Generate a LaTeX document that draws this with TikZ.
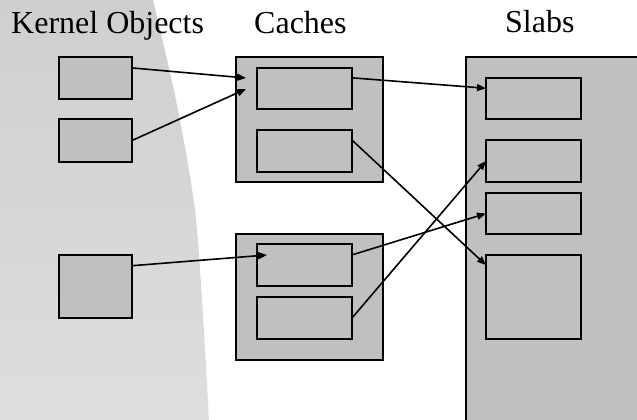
\documentclass[tikz,border=0pt]{standalone}
\usepackage{fontspec}
\setmainfont{Liberation Serif}
\usetikzlibrary{arrows.meta,calc}
\definecolor{boxfill}{RGB}{192,192,192}
\definecolor{shadetop}{RGB}{207,207,207}
\definecolor{shadebot}{RGB}{222,222,222}
\tikzset{
  box/.style={draw=black, fill=boxfill, line width=2pt, rectangle,
    inner sep=0pt, outer sep=0pt},
  title/.style={anchor=base west, inner sep=0pt, font=\fontsize{32}{38}\selectfont},
  link/.style={line width=1.6pt, -{Triangle[length=9pt,width=7pt]}, shorten >=0pt},
}
\begin{document}
\begin{tikzpicture}[x=1pt,y=-1pt]
  \useasboundingbox (0,0) rectangle (637,420);
  \clip (0,0) rectangle (637,420);

  % shaded region behind the kernel objects
  \shade[top color=shadetop, bottom color=shadebot]
    (0,0) -- plot[smooth] coordinates {(153,0) (177,105) (195,210) (203,315) (209,420)}
    -- (0,420) -- cycle;

  % column titles
  \node[title] (tk) at (11,34) {Kernel Objects};
  \node[title] (tc) at (254,34) {Caches};
  \node[title] (ts) at (505,33) {Slabs};

  % kernel objects
  \node[box, minimum width=73pt, minimum height=42pt] (k1) at (95.5,78) {};
  \node[box, minimum width=73pt, minimum height=43pt] (k2) at (95.5,140.5) {};
  \node[box, minimum width=73pt, minimum height=63pt] (k3) at (95.5,286.5) {};

  % caches
  \node[box, minimum width=147pt, minimum height=125pt] (c1) at (309.5,119.5) {};
  \node[box, minimum width=95pt, minimum height=41pt] (c1a) at (304.5,88.5) {};
  \node[box, minimum width=95pt, minimum height=42pt] (c1b) at (304.5,151) {};
  \node[box, minimum width=147pt, minimum height=126pt] (c2) at (309.5,297) {};
  \node[box, minimum width=95pt, minimum height=42pt] (c2a) at (304.5,265) {};
  \node[box, minimum width=95pt, minimum height=42pt] (c2b) at (304.5,318) {};

  % slabs
  \node[box, minimum width=200pt, minimum height=380pt, anchor=north west] (s) at (466,57) {};
  \node[box, minimum width=95pt, minimum height=41pt] (s1) at (533.5,98.5) {};
  \node[box, minimum width=95pt, minimum height=42pt] (s2) at (533.5,161) {};
  \node[box, minimum width=95pt, minimum height=41pt] (s3) at (533.5,213.5) {};
  \node[box, minimum width=95pt, minimum height=84pt] (s4) at (533.5,297) {};

  % free arrow ends inside the caches
  \coordinate (e1) at ($(c1.north west)+(10,21)$);
  \coordinate (e2) at ($(c1.north west)+(10,32)$);
  \coordinate (e3) at ($(c2a.north west)+(10,11)$);

  % references from objects to caches
  \draw[link] ($(k1.north east)!0.26!(k1.south east)$) -- (e1);
  \draw[link] (k2.east) -- (e2);
  \draw[link] ($(k3.north east)!0.17!(k3.south east)$) -- (e3);

  % references from caches to slabs
  \draw[link] ($(c1a.north east)!0.24!(c1a.south east)$) -- ($(s1.north west)!0.25!(s1.south west)$);
  \draw[link] ($(c1b.north east)!0.24!(c1b.south east)$) -- ($(s4.north west)!0.12!(s4.south west)$);
  \draw[link] ($(c2a.north east)!0.26!(c2a.south east)$) -- (s3.west);
  \draw[link] (c2b.east) -- (s2.west);
\end{tikzpicture}
\end{document}
